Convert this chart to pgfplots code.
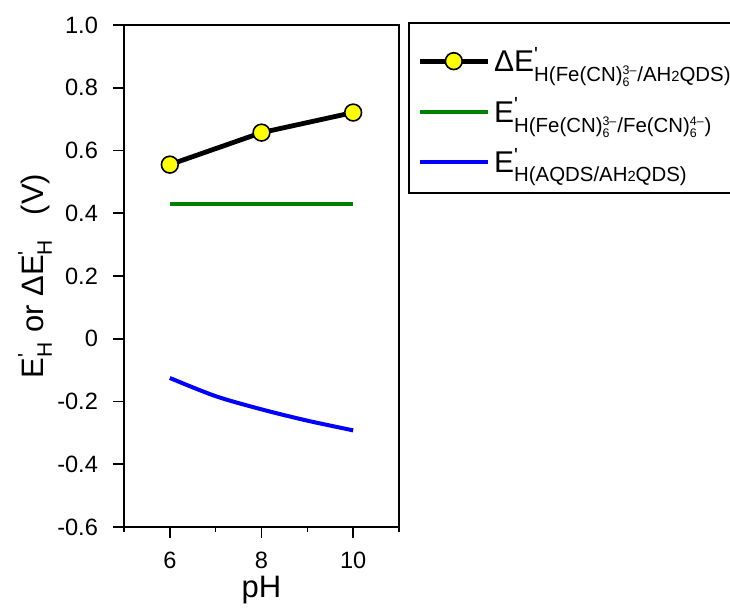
\documentclass[border=0pt]{standalone}
\usepackage{fontspec}
\setmainfont{Liberation Sans}
\usepackage{amsmath}
\usepackage{graphicx}
\usepackage{pgfplots}
\pgfplotsset{compat=1.18}

\definecolor{lgreen}{RGB}{0,128,0}
\definecolor{lblue}{RGB}{0,0,255}
\definecolor{lyellow}{RGB}{255,255,0}

\DeclareMathSizes{15}{15}{10.2}{8}
\DeclareMathSizes{15.5}{15.5}{10.5}{8}
\DeclareMathSizes{10.2}{10.2}{6.2}{5}
\DeclareMathSizes{10.5}{10.5}{7.5}{6}

% prime above, subscript below, both in the text font
\newcommand{\ps}[1]{\ensuremath{^{\text{\textquotesingle}}_{\text{#1}}}}
% stacked super/subscript inside a subscript
\newcommand{\stk}[2]{\ensuremath{^{\text{#1}}_{\text{#2}}}}
\newcommand{\two}{\scalebox{0.72}{2}}

\begin{document}
\begin{tikzpicture}
\useasboundingbox (-62pt,-40pt) rectangle (303pt,263.5pt);
\begin{axis}[
  scale only axis,
  width=137.5pt, height=251pt,
  xmin=5, xmax=11, ymin=-0.6, ymax=1.0,
  xtick={6,8,10},
  minor xtick={5,7,9,11},
  ytick={-0.6,-0.4,-0.2,0,0.2,0.4,0.6,0.8,1.0},
  yticklabels={-0.6,-0.4,-0.2,0,0.2,0.4,0.6,0.8,1.0},
  xtick pos=bottom, ytick pos=left,
  tick align=outside,
  major tick length=5.5pt,
  minor tick length=2.5pt,
  every tick/.style={black, line width=0.8pt},
  axis line style={line width=0.9pt},
  /pgf/number format/assume math mode=true,
  tick label style={font=\fontsize{11.8}{13}\selectfont},
  yticklabel style={xshift=-4pt},
  xticklabel style={yshift=-3.5pt},
  xlabel={pH},
  ylabel={E\ps{H} or ΔE\ps{H}\hspace{12pt}(V)},
  label style={font=\fontsize{15.5}{17}\selectfont},
  xlabel style={at={(axis description cs:0.5,-0.1255)}, anchor=center},
  ylabel style={at={(axis description cs:-0.3236,0.5)}, anchor=center},
  legend style={draw=none, fill=none, at={(axis description cs:1,1)}, anchor=north west,
    xshift=6pt, yshift=-7pt, row sep=7.5pt,
    font=\fontsize{15}{17}\selectfont},
  legend cell align=left,
  legend image code/.code={\draw[mark repeat=2,mark phase=2] plot coordinates {(0pt,0pt) (17pt,0pt) (34pt,0pt)};},
]
\addplot[black, line width=2.4pt, mark=*, mark size=4.2pt,
  mark options={fill=lyellow, draw=black, line width=0.8pt}]
  coordinates {(6,0.555) (8,0.657) (10,0.721)};
\addlegendentry{ΔE\ps{H(Fe(CN)\stk{3–}{6}/AH\two QDS)}}
\addplot[lgreen, line width=2pt]
  coordinates {(6,0.430) (8,0.430) (10,0.430)};
\addlegendentry{E\ps{H(Fe(CN)\stk{3–}{6}/Fe(CN)\stk{4–}{6})}}
\addplot[lblue, line width=2pt, smooth]
  coordinates {(6,-0.125) (7,-0.183) (8,-0.225) (9,-0.261) (10,-0.292)};
\addlegendentry{E\ps{H(AQDS/AH\two QDS)}}
\end{axis}
\draw[line width=0.8pt] (142.5pt,252pt) rectangle (320pt,167pt);
\end{tikzpicture}
\end{document}
